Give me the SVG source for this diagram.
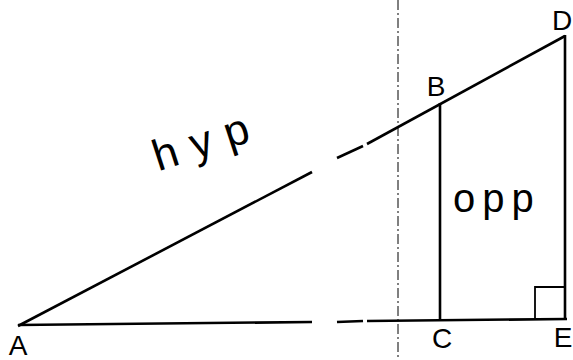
<svg xmlns="http://www.w3.org/2000/svg" width="573" height="360" viewBox="0 0 573 360">
<style>
.ln{stroke:#000;stroke-width:2.6;fill:none;stroke-linecap:butt}
.thin{stroke:#000;stroke-width:1.8;fill:none}
.dash{stroke:#000;stroke-width:1;stroke-dasharray:10 3 2 3;fill:none}
.lbl{font-family:"Liberation Sans",Arial,sans-serif;font-size:28px;fill:#000;text-anchor:middle}
.hand{font-family:"Liberation Sans",Arial,sans-serif;fill:#000}
</style>
<rect width="573" height="360" fill="#fff"/>
<g id="connectors">
<line id="guide" class="dash" x1="398" y1="0" x2="398" y2="360"/>
<line id="hyp-1" class="ln" x1="18" y1="326" x2="312" y2="172"/>
<line id="hyp-2" class="ln" x1="337" y1="158" x2="363" y2="146"/>
<line id="hyp-3" class="ln" x1="367" y1="144" x2="565" y2="36"/>
<line id="base-1" class="ln" x1="18" y1="325" x2="312" y2="322"/>
<line id="base-2" class="ln" x1="337" y1="322" x2="363" y2="321"/>
<line id="base-3" class="ln" x1="367" y1="321" x2="567" y2="319"/>
<line id="BC" class="ln" x1="440" y1="103" x2="440" y2="321"/>
<line id="DE" class="ln" x1="565" y1="35" x2="565" y2="320"/>
<polyline id="right-angle" class="thin" points="535,319 535,287 565,287"/>
</g>
<g id="A"><text class="lbl" x="18" y="355">A</text></g>
<g id="B"><text class="lbl" x="436" y="96">B</text></g>
<g id="C"><text class="lbl" x="442" y="348">C</text></g>
<g id="D"><text class="lbl" x="562" y="30">D</text></g>
<g id="E"><text class="lbl" x="563" y="347">E</text></g>
<g id="hyp-label"><text class="hand" font-size="44" letter-spacing="14" transform="translate(212,154) rotate(-18)" text-anchor="middle">hyp</text></g>
<g id="opp-label"><text class="hand" font-size="40" letter-spacing="7" x="453" y="212">opp</text></g>
</svg>
